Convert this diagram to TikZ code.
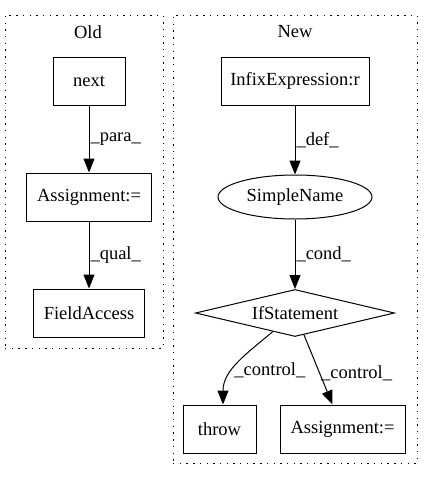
\documentclass[tikz,border=0pt]{standalone}
\usepackage{fontspec}
\setmainfont{Liberation Serif}
\usetikzlibrary{shapes.geometric, arrows.meta}

\begin{document}
\begin{tikzpicture}[x=1pt, y=-1pt, line width=1pt,
		every node/.style={font=\fontsize{18.5}{22}\selectfont},
		cluster/.style={draw, dash pattern=on 1.4pt off 5.3pt, inner sep=0pt},
		box/.style={draw, minimum height=48pt, inner sep=0pt},
		edge/.style={-{Triangle[length=14pt, width=11pt]}},
		lbl/.style={right, inner sep=1pt}]
		\useasboundingbox (0, 0) rectangle (432, 480);
		\node[cluster, minimum width=158pt, minimum height=333pt] (old) at (84, 181.5) {};
		\node[cluster, minimum width=244pt, minimum height=448pt] (new) at (295, 239) {};
		\node (oldtitle) at (88, 32) {Old};
		\node (newtitle) at (295, 32) {New};
		\node[box, minimum width=72pt] (next) at (89, 81) {next};
		\node[box, minimum width=125pt] (asgold) at (89, 197) {Assignment:=};
		\node[box, minimum width=111pt] (field) at (89, 313) {FieldAccess};
		\node[box, minimum width=148pt] (infix) at (295, 81) {InfixExpression:r};
		\node[draw, ellipse, minimum width=154pt, minimum height=44pt, inner sep=0pt] (simple) at (295, 197) {SimpleName};
		\node[draw, diamond, minimum width=199pt, minimum height=47pt, inner sep=0pt, aspect=4] (ifst) at (295, 313) {IfStatement};
		\node[box, minimum width=73pt] (throw) at (219.5, 429) {throw};
		\node[box, minimum width=125pt] (asgnew) at (342.5, 429) {Assignment:=};
		\draw[edge] (next) -- node[lbl] {\_para\_} (asgold);
		\draw[edge] (asgold) -- node[lbl] {\_qual\_} (field);
		\draw[edge] (infix) -- node[lbl] {\_def\_} (simple);
		\draw[edge] (simple) -- node[lbl] {\_cond\_} (ifst);
		\draw[edge] (ifst) to[out=-140, in=90] node[lbl, pos=0.6] {\_control\_} (throw.north -| 223, 0);
		\draw[edge] (ifst) -- node[lbl, pos=0.55] {\_control\_} (asgnew);
	\end{tikzpicture}
\end{document}
